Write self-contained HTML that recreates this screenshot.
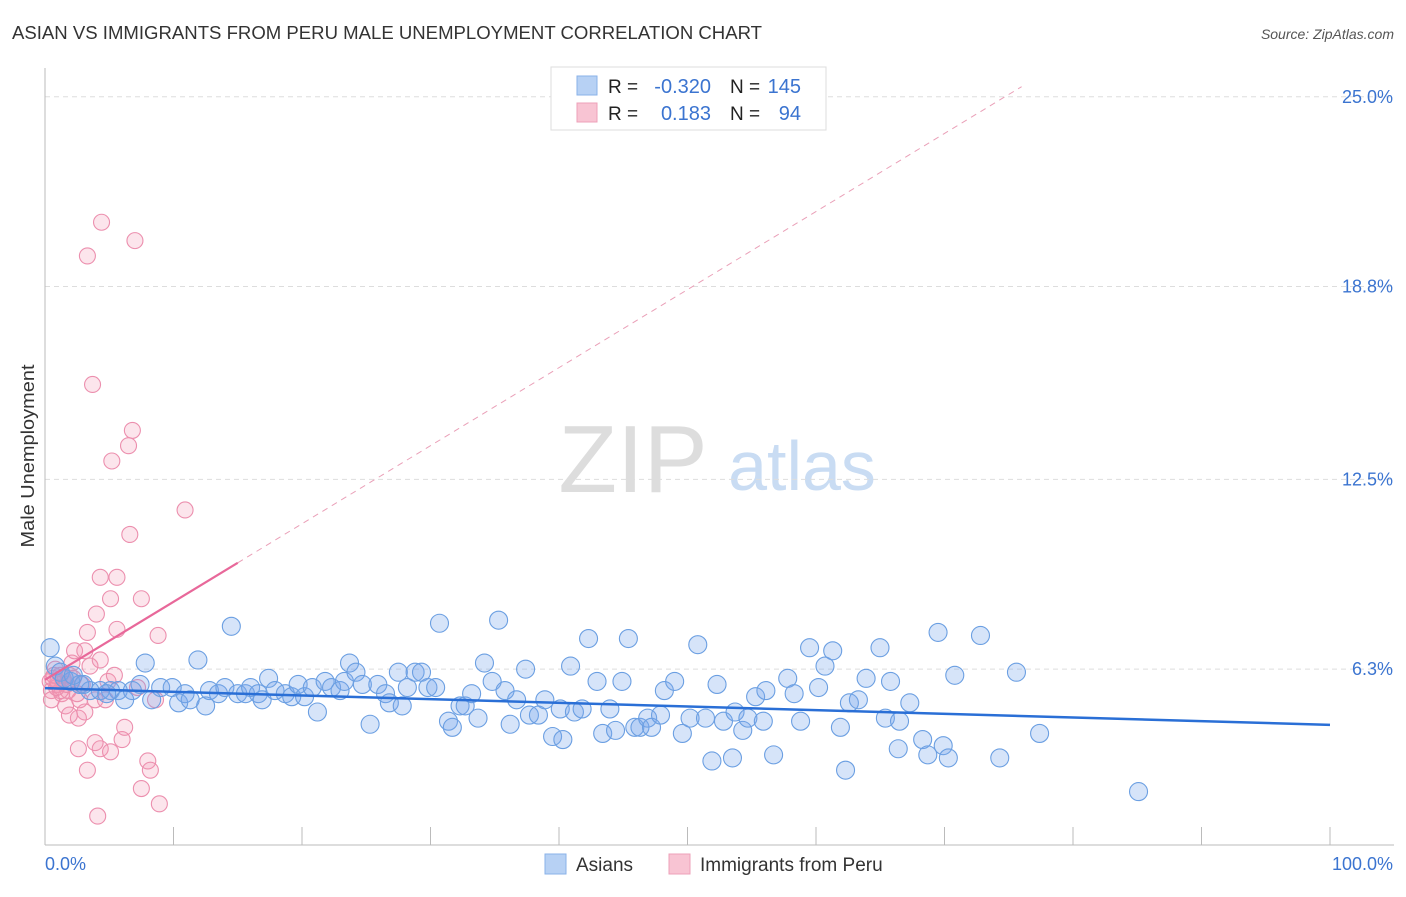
<!DOCTYPE html>
<html><head><meta charset="utf-8"><style>
body{margin:0;background:#fff;font-family:"Liberation Sans",sans-serif;}
svg text{font-family:"Liberation Sans",sans-serif;}
</style></head><body>
<svg id="chart" width="1406" height="892" viewBox="0 0 1406 892">
<text x="12" y="39" font-size="18" fill="#333" textLength="750" lengthAdjust="spacingAndGlyphs">ASIAN VS IMMIGRANTS FROM PERU MALE UNEMPLOYMENT CORRELATION CHART</text>
<text x="1394" y="39" font-size="14" fill="#555" font-style="italic" text-anchor="end">Source: ZipAtlas.com</text>
<text x="34" y="456" font-size="18" fill="#333" text-anchor="middle" textLength="183" lengthAdjust="spacingAndGlyphs" transform="rotate(-90 34 456)">Male Unemployment</text>
<g>
<text x="633" y="492" font-size="96" fill="#ddd" font-family="Liberation Serif" text-anchor="middle">ZIP</text>
<text x="802" y="490" font-size="70" fill="#c9dcf3" text-anchor="middle">atlas</text>
</g>
<g id="grid"></g>
<g id="axes"></g>
<g id="pink"></g>
<g id="blue"></g>
<g id="lines"></g>
<g>
<rect x="551" y="67" width="275" height="63" fill="#fff" stroke="#ddd"/>
<rect x="577" y="76" width="20" height="19" fill="#b7d1f4" stroke="#8ab2e8"/>
<rect x="577" y="103" width="20" height="19" fill="#f8c4d3" stroke="#eea0b8"/>
<text x="608" y="93" font-size="19" fill="#222">R =</text><text x="711" y="93" font-size="20" fill="#3b74d0" text-anchor="end">-0.320</text>
<text x="730" y="93" font-size="19" fill="#222">N =</text><text x="801" y="93" font-size="20" fill="#3b74d0" text-anchor="end">145</text>
<text x="608" y="120" font-size="19" fill="#222">R =</text><text x="711" y="120" font-size="20" fill="#3b74d0" text-anchor="end">0.183</text>
<text x="730" y="120" font-size="19" fill="#222">N =</text><text x="801" y="120" font-size="20" fill="#3b74d0" text-anchor="end">94</text>
</g>
<g>
<rect x="545" y="854" width="21" height="20" fill="#b7d1f4" stroke="#8ab2e8"/>
<text x="576" y="871" font-size="19" fill="#333">Asians</text>
<rect x="669" y="854" width="21" height="20" fill="#f8c4d3" stroke="#eea0b8"/>
<text x="700" y="871" font-size="19" fill="#333">Immigrants from Peru</text>
</g>
</svg>
<script>
const yTicks=[25.0,18.8,12.5,6.3];
const yTickLabels=["25.0%","18.8%","12.5%","6.3%"];
const xEndLabels=["0.0%","100.0%"];
const blueX=[0.4,0.8,1.2,2.0,2.7,3.5,4.3,5.1,5.7,6.2,7.4,7.8,8.3,9.0,9.9,10.4,10.9,11.3,11.9,12.5,12.8,13.5,14.0,14.5,15.0,15.6,16.0,16.6,16.9,17.4,17.9,18.7,19.2,19.7,20.2,20.8,21.2,21.8,22.3,22.96,23.3,23.7,24.2,24.7,25.3,25.9,26.5,26.8,27.5,27.8,28.2,28.8,29.3,29.8,30.4,30.7,31.4,31.7,32.3,32.7,33.2,33.7,34.2,34.8,35.3,35.8,36.2,36.7,37.4,37.7,38.4,38.9,39.5,40.1,40.3,40.9,41.2,41.8,42.3,42.96,43.4,43.96,44.4,44.9,45.4,45.9,46.3,46.9,47.2,47.9,48.2,49.0,49.6,50.2,50.8,51.4,51.9,52.3,52.8,53.5,53.7,54.3,54.7,55.3,55.9,56.1,56.7,57.8,58.3,58.8,59.5,60.2,60.7,61.3,61.9,62.3,62.6,63.3,63.9,64.98,65.4,65.8,66.4,66.5,67.3,68.3,68.7,69.5,69.9,70.3,70.8,72.8,74.3,75.6,77.4,85.1,1.5,3.0,4.8,6.8,2.2];
const blueY=[7.0,6.4,6.2,5.9,5.8,5.6,5.6,5.6,5.6,5.3,5.8,6.5,5.3,5.7,5.7,5.2,5.5,5.3,6.6,5.1,5.6,5.5,5.7,7.7,5.5,5.5,5.7,5.5,5.3,6.0,5.6,5.5,5.4,5.8,5.4,5.7,4.9,5.9,5.7,5.6,5.9,6.5,6.2,5.8,4.5,5.8,5.5,5.2,6.2,5.1,5.7,6.2,6.2,5.7,5.7,7.8,4.6,4.4,5.1,5.1,5.5,4.7,6.5,5.9,7.9,5.6,4.5,5.3,6.3,4.8,4.8,5.3,4.1,5.0,4.0,6.4,4.9,5.0,7.3,5.9,4.2,5.0,4.3,5.9,7.3,4.4,4.4,4.7,4.4,4.8,5.6,5.9,4.2,4.7,7.1,4.7,3.3,5.8,4.6,3.4,4.9,4.3,4.7,5.4,4.6,5.6,3.5,6.0,5.5,4.6,7.0,5.7,6.4,6.9,4.4,3.0,5.2,5.3,6.0,7.0,4.7,5.9,3.7,4.6,5.2,4.0,3.5,7.5,3.8,3.4,6.1,7.4,3.4,6.2,4.2,2.3,6.0,5.8,5.5,5.6,6.1];
const pinkX=[0.4,0.5,0.8,1.0,1.2,1.3,1.6,1.8,1.9,2.1,2.3,2.6,2.7,2.9,3.1,3.3,3.3,3.5,3.7,3.9,4.0,4.3,4.3,4.4,4.7,4.9,5.1,5.2,5.4,5.6,5.6,6.0,6.2,6.5,6.6,6.8,7.0,7.2,7.5,8.0,8.2,8.6,8.8,8.9,10.9,4.1,3.3,2.6,4.3,5.1,7.5,3.9,1.9,3.1,1.2,0.5,0.6,1.0,1.4,0.9,1.7,2.2,2.5,0.7];
const pinkY=[5.9,5.6,6.3,5.8,6.1,5.5,5.1,5.6,6.1,6.5,6.9,4.7,5.3,5.8,6.9,7.5,19.8,6.4,15.6,5.3,8.1,9.3,6.6,20.9,5.3,5.9,8.6,13.1,6.1,9.3,7.6,4.0,4.4,13.6,10.7,14.1,20.3,5.7,8.6,3.3,3.0,5.3,7.4,1.9,11.5,1.5,3.0,3.7,3.7,3.6,2.4,3.9,4.8,4.9,5.6,5.3,6.0,5.9,6.0,5.7,5.8,6.0,5.5,6.1];
const blueLine=[5.68,4.48];
const pinkLine=[5.95,0.255];
const NS="http://www.w3.org/2000/svg";
const X0=45,X1=1330,YB=862,PXP=30.61;
function sx(v){return X0+(X1-X0)*v/100;}
function sy(v){return YB-v*PXP;}
function mk(tag,attrs,parent){const e=document.createElementNS(NS,tag);for(const k in attrs)e.setAttribute(k,attrs[k]);document.getElementById(parent).appendChild(e);return e;}
yTicks.forEach((t,i)=>{
 const l=mk('line',{x1:X0,x2:1394,y1:sy(t),y2:sy(t),stroke:'#ddd','stroke-dasharray':'5,4'},'grid');
 
 
 const tx=mk('text',{x:1393,y:sy(t)+6,'font-size':18,fill:'#3b74d0','text-anchor':'end'},'grid');
 tx.textContent=yTickLabels[i];
 
 
});
let ax=mk('line',{x1:X0,x2:X0,y1:68,y2:845,stroke:'#bbb'},'axes');


ax=mk('line',{x1:X0,x2:1394,y1:845,y2:845,stroke:'#bbb'},'axes');


for(let i=1;i<=10;i++){
 const t=mk('line',{x1:sx(i*10),x2:sx(i*10),y1:827,y2:845,stroke:'#bbb'},'axes');
 
 
}
let xl=mk('text',{x:45,y:870,'font-size':18,fill:'#3b74d0'},'axes');xl.textContent=xEndLabels[0];


xl=mk('text',{x:1393,y:870,'font-size':18,fill:'#3b74d0','text-anchor':'end'},'axes');xl.textContent=xEndLabels[1];


pinkX.forEach((v,i)=>{
 const c=mk('circle',{cx:sx(v),cy:sy(pinkY[i]),r:8,fill:'rgba(243,150,180,0.25)',stroke:'#ec8fae','stroke-width':1.1},'pink');
 
 
});
blueX.forEach((v,i)=>{
 const c=mk('circle',{cx:sx(v),cy:sy(blueY[i]),r:9,fill:'rgba(120,165,235,0.3)',stroke:'#6b9fe2','stroke-width':1.1},'blue');
 
 
});
let ln=mk('line',{x1:sx(0),y1:sy(blueLine[0]),x2:sx(100),y2:sy(blueLine[1]),stroke:'#2a6fd6','stroke-width':2.5},'lines');


ln=mk('line',{x1:sx(0),y1:sy(pinkLine[0]),x2:sx(15),y2:sy(pinkLine[0]+pinkLine[1]*15),stroke:'#e8689a','stroke-width':2.2},'lines');


ln=mk('line',{x1:sx(15),y1:sy(pinkLine[0]+pinkLine[1]*15),x2:sx(76),y2:sy(pinkLine[0]+pinkLine[1]*76),stroke:'#eaa0b8','stroke-width':1,'stroke-dasharray':'6,5'},'lines');


</script>
</body></html>
